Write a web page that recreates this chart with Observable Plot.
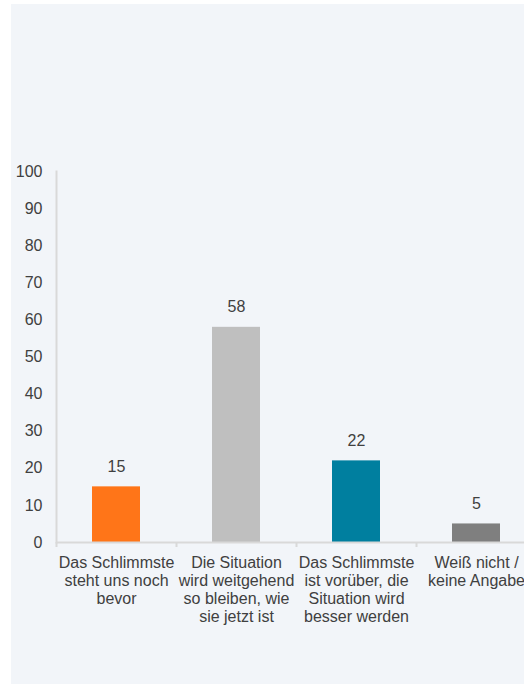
<!DOCTYPE html>
<html><head><meta charset="utf-8">
<script src="https://cdn.jsdelivr.net/npm/d3@7"></script>
<script src="https://cdn.jsdelivr.net/npm/@observablehq/plot@0.6"></script>
<style>
html,body{margin:0;padding:0;width:524px;height:684px;overflow:hidden;background:#fff;}
#panel{position:absolute;left:11px;top:4px;width:513px;height:680px;background:#f2f5f9;}
#chart{position:absolute;left:0;top:0;}
</style></head><body>
<div id="panel"></div><div id="chart"></div>
<script>
const categories = [
  "Das Schlimmste\nsteht uns noch\nbevor",
  "Die Situation\nwird weitgehend\nso bleiben, wie\nsie jetzt ist",
  "Das Schlimmste\nist vorüber, die\nSituation wird\nbesser werden",
  "Weiß nicht /\nkeine Angabe"
];
const values = [15, 58, 22, 5];
const colors = ["#ff7518", "#bfbfbf", "#007f9f", "#7f7f7f"];
const yTicks = [0, 10, 20, 30, 40, 50, 60, 70, 80, 90, 100];
const data = categories.map((c, i) => ({category: c, value: values[i], color: colors[i]}));
const font = "'Liberation Sans', Arial, sans-serif";
const textColor = "#404040";
const axisColor = "#d9d9d9";
const plot = Plot.plot({
  width: 560, height: 684,
  marginLeft: 56, marginRight: 24, marginTop: 171, marginBottom: 142,
  style: {background: "transparent", maxWidth: "none", fontFamily: font, fontSize: "16px", color: textColor, overflow: "visible"},
  x: {domain: categories, padding: 0, label: null},
  y: {domain: [0, 100], label: null},
  marks: [
    Plot.barY(data, {x: "category", y: "value", fill: "color", insetLeft: 36, insetRight: 36}),
    Plot.ruleY([0], {stroke: axisColor, strokeWidth: 2}),
    Plot.frame({anchor: "left", stroke: axisColor, strokeWidth: 2}),
    Plot.axisX({ticks: categories, tickSize: 5, dx: -60, tickFormat: () => "", label: null, stroke: axisColor, strokeWidth: 2}),
    Plot.axisY({ticks: yTicks, tickSize: 0, tickPadding: 14, label: null, fill: textColor, fontSize: 16}),
    Plot.text(data, {x: "category", y: "value", text: d => String(d.value), dy: -15, lineAnchor: "bottom", fill: textColor, fontSize: 16}),
    Plot.text(data, {x: "category", frameAnchor: "bottom", text: "category", lineAnchor: "top", dy: 13, lineHeight: 1.125, fill: textColor, fontSize: 16})
  ]
});
document.getElementById("chart").appendChild(plot);
</script>
</body></html>
